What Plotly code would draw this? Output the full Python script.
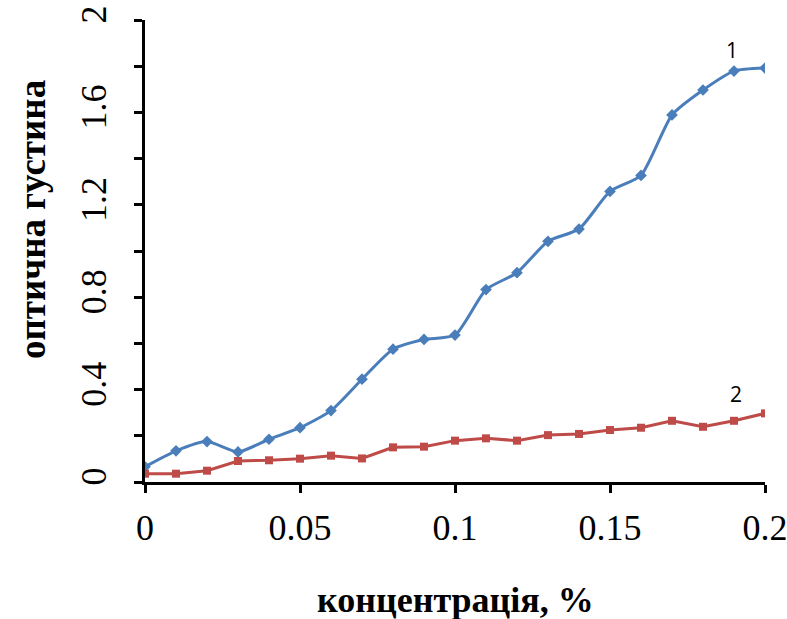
import plotly.graph_objects as go

x = [0, 0.01, 0.02, 0.03, 0.04, 0.05, 0.06, 0.07, 0.08, 0.09, 0.10,
     0.11, 0.12, 0.13, 0.14, 0.15, 0.16, 0.17, 0.18, 0.19, 0.20]
series1 = [0.066, 0.135, 0.175, 0.13, 0.185, 0.235, 0.309, 0.445, 0.575, 0.617, 0.636,
           0.833, 0.906, 1.042, 1.095, 1.258, 1.327, 1.589, 1.697, 1.779, 1.792]
series2 = [0.036, 0.036, 0.049, 0.091, 0.094, 0.101, 0.114, 0.102, 0.150, 0.153, 0.179,
           0.189, 0.179, 0.203, 0.208, 0.225, 0.235, 0.265, 0.239, 0.265, 0.297]

ytickvals = [0, 0.2, 0.4, 0.6, 0.8, 1.0, 1.2, 1.4, 1.6, 1.8, 2.0]
yticktext = ["0", "", "0.4", "", "0.8", "", "1.2", "", "1.6", "", "2"]
xtickvals = [0, 0.05, 0.1, 0.15, 0.2]
xticktext = ["0", "0.05", "0.1", "0.15", "0.2"]

fig = go.Figure()
fig.add_trace(go.Scatter(x=x, y=series1, mode="lines+markers",
                         line=dict(color="#4A7EBB", width=3, shape="spline", smoothing=0.6),
                         marker=dict(symbol="diamond", size=9, color="#4A7EBB"),
                         showlegend=False))
fig.add_trace(go.Scatter(x=x, y=series2, mode="lines+markers",
                         line=dict(color="#BE4B48", width=3),
                         marker=dict(symbol="square", size=8, color="#BE4B48"),
                         showlegend=False))

fig.add_annotation(x=0.1895, y=1.87, text="1", showarrow=False,
                   font=dict(family="Open Sans", size=21, color="black"))
fig.add_annotation(x=0.1905, y=0.38, text="2", showarrow=False,
                   font=dict(family="Open Sans", size=21, color="black"))

fig.add_annotation(xref="paper", yref="paper", x=(32 - 145) / 620, y=(482 - 220) / 462,
                   xanchor="center", yanchor="middle",
                   text="<b>оптична густина</b>", textangle=-90, showarrow=False,
                   font=dict(family="Liberation Serif", size=37, color="black"))
fig.add_annotation(xref="paper", yref="paper", x=0.5, y=(482 - 600) / 462,
                   xanchor="center", yanchor="middle",
                   text="<b>концентрація, %</b>", showarrow=False,
                   font=dict(family="Liberation Serif", size=36, color="black"))

fig.update_layout(
    width=787, height=619,
    margin=dict(l=145, r=22, t=20, b=137),
    paper_bgcolor="white", plot_bgcolor="white",
    xaxis=dict(range=[0, 0.2], tickmode="array", tickvals=xtickvals, ticktext=xticktext,
               automargin=False, ticklabeloverflow="allow",
               showgrid=False, zeroline=False, showline=True, linecolor="black", linewidth=2.5,
               ticks="outside", ticklen=8, tickwidth=2.5, tickcolor="black",
               ticklabelstandoff=4,
               tickfont=dict(family="Liberation Serif", size=36, color="black")),
    yaxis=dict(range=[0, 2], tickmode="array", tickvals=ytickvals, ticktext=yticktext,
               automargin=False, ticklabeloverflow="allow",
               showgrid=False, zeroline=False, showline=True, linecolor="black", linewidth=2.5,
               ticks="outside", ticklen=8, tickwidth=2.5, tickcolor="black", tickangle=-90,
               ticklabelstandoff=14,
               tickfont=dict(family="Liberation Serif", size=36, color="black")),
)

fig.write_html("out.html")
